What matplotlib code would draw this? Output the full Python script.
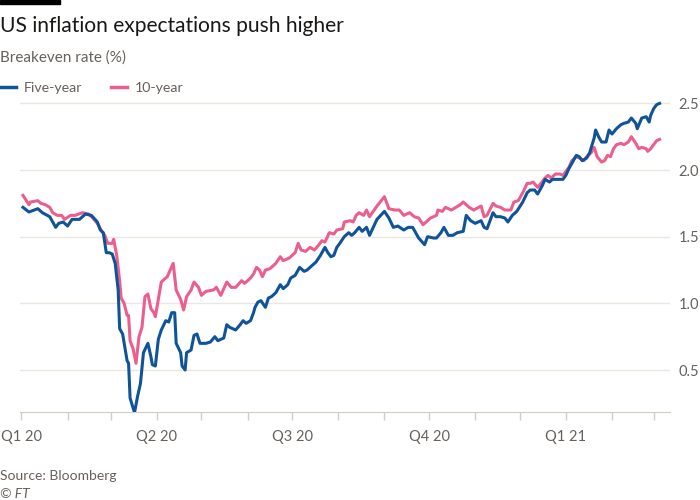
import matplotlib
matplotlib.use("Agg")
import matplotlib.pyplot as plt
import matplotlib.dates as mdates
from matplotlib.patches import Rectangle
from matplotlib.lines import Line2D
import pandas as pd

plt.rcParams['font.family'] = ['Lato', 'DejaVu Sans']

title = "US inflation expectations push higher"
subtitle = "Breakeven rate (%)"
source = "Source: Bloomberg"
series_names = ["Five-year", "10-year"]

quarter_starts = ["2020-01-01", "2020-04-01", "2020-07-01", "2020-10-01", "2021-01-01"]
quarter_labels = ["Q1 20", "Q2 20", "Q3 20", "Q4 20", "Q1 21"]
y_ticks = [0.5, 1.0, 1.5, 2.0, 2.5]

five_dates = [
    "2020-01-02", "2020-01-06", "2020-01-12", "2020-01-15", "2020-01-20", "2020-01-24", "2020-01-26", "2020-01-29",
    "2020-02-01", "2020-02-04", "2020-02-09", "2020-02-13", "2020-02-17", "2020-02-21", "2020-02-23", "2020-02-25",
    "2020-02-27", "2020-02-29",
    "2020-03-02", "2020-03-04", "2020-03-06", "2020-03-07", "2020-03-09", "2020-03-12", "2020-03-13", "2020-03-14",
    "2020-03-17", "2020-03-19", "2020-03-21", "2020-03-23", "2020-03-26", "2020-03-28", "2020-03-29", "2020-03-31",
    "2020-04-02", "2020-04-04", "2020-04-07", "2020-04-09", "2020-04-11", "2020-04-13", "2020-04-14", "2020-04-17",
    "2020-04-18", "2020-04-20", "2020-04-21", "2020-04-24", "2020-04-26", "2020-04-28", "2020-04-30",
    "2020-05-04", "2020-05-07", "2020-05-10", "2020-05-12", "2020-05-16", "2020-05-18", "2020-05-20", "2020-05-24",
    "2020-05-27", "2020-05-29", "2020-05-31",
    "2020-06-03", "2020-06-05", "2020-06-06", "2020-06-08", "2020-06-10", "2020-06-13", "2020-06-15", "2020-06-17",
    "2020-06-20", "2020-06-23", "2020-06-25", "2020-06-28", "2020-06-30",
    "2020-07-03", "2020-07-06", "2020-07-09", "2020-07-11", "2020-07-15", "2020-07-17", "2020-07-20", "2020-07-23",
    "2020-07-25", "2020-07-27", "2020-07-29", "2020-07-31",
    "2020-08-02", "2020-08-05", "2020-08-08", "2020-08-10", "2020-08-12", "2020-08-15", "2020-08-17", "2020-08-20",
    "2020-08-22", "2020-08-27",
    "2020-09-01", "2020-09-04", "2020-09-07", "2020-09-10", "2020-09-14", "2020-09-17", "2020-09-20", "2020-09-22",
    "2020-09-24", "2020-09-28", "2020-09-30",
    "2020-10-04", "2020-10-06", "2020-10-09", "2020-10-11", "2020-10-14", "2020-10-17", "2020-10-20", "2020-10-24",
    "2020-10-26", "2020-10-29",
    "2020-11-01", "2020-11-05", "2020-11-07", "2020-11-09", "2020-11-13", "2020-11-15", "2020-11-18", "2020-11-21",
    "2020-11-23", "2020-11-26", "2020-11-29",
    "2020-12-03", "2020-12-06", "2020-12-08", "2020-12-11", "2020-12-13", "2020-12-16", "2020-12-18", "2020-12-21",
    "2020-12-23", "2020-12-26", "2020-12-30",
    "2021-01-01", "2021-01-03", "2021-01-05", "2021-01-08", "2021-01-10", "2021-01-12", "2021-01-15", "2021-01-17",
    "2021-01-20", "2021-01-21", "2021-01-23", "2021-01-25", "2021-01-28", "2021-01-30",
    "2021-02-01", "2021-02-04", "2021-02-07", "2021-02-09", "2021-02-12", "2021-02-14", "2021-02-17", "2021-02-18",
    "2021-02-21", "2021-02-24", "2021-02-26", "2021-02-27",
    "2021-03-01", "2021-03-03", "2021-03-05",
]
five_year = [
    1.72, 1.685, 1.71, 1.68, 1.65, 1.57, 1.60, 1.61,
    1.58, 1.63, 1.63, 1.67, 1.66, 1.61, 1.55, 1.53, 1.38, 1.38,
    1.37, 1.30, 1.10, 0.81, 0.77, 0.57, 0.55, 0.29, 0.18, 0.30, 0.40, 0.63, 0.70, 0.60, 0.54, 0.53,
    0.73, 0.80, 0.87, 0.86, 0.93, 0.93, 0.70, 0.63, 0.53, 0.50, 0.63, 0.65, 0.76, 0.77, 0.70,
    0.70, 0.71, 0.75, 0.72, 0.74, 0.84, 0.82, 0.80, 0.84, 0.87, 0.85,
    0.87, 0.93, 0.97, 1.01, 1.02, 0.97, 1.04, 1.05, 1.08, 1.14, 1.11, 1.14, 1.19,
    1.21, 1.27, 1.24, 1.25, 1.29, 1.31, 1.36, 1.42, 1.38, 1.35, 1.36, 1.42,
    1.45, 1.50, 1.53, 1.51, 1.53, 1.57, 1.54, 1.57, 1.51, 1.63,
    1.69, 1.64, 1.57, 1.58, 1.55, 1.57, 1.57, 1.53, 1.49, 1.44, 1.50,
    1.49, 1.49, 1.53, 1.57, 1.51, 1.51, 1.53, 1.54, 1.66, 1.62,
    1.60, 1.62, 1.57, 1.56, 1.68, 1.65, 1.65, 1.64, 1.61, 1.66, 1.69,
    1.76, 1.83, 1.85, 1.85, 1.82, 1.88, 1.93, 1.91, 1.93, 1.93, 1.93,
    1.96, 2.01, 2.05, 2.11, 2.10, 2.07, 2.09, 2.13, 2.24, 2.30, 2.25, 2.21, 2.21, 2.30,
    2.27, 2.31, 2.34, 2.35, 2.36, 2.39, 2.35, 2.31, 2.39, 2.40, 2.36, 2.41,
    2.46, 2.49, 2.50,
]

ten_dates = [
    "2020-01-02", "2020-01-06", "2020-01-07", "2020-01-12", "2020-01-14", "2020-01-17", "2020-01-20", "2020-01-22",
    "2020-01-25", "2020-01-28", "2020-01-30",
    "2020-02-03", "2020-02-06", "2020-02-11", "2020-02-15", "2020-02-18", "2020-02-21", "2020-02-24", "2020-02-26",
    "2020-02-28",
    "2020-03-02", "2020-03-03", "2020-03-05", "2020-03-07", "2020-03-08", "2020-03-10", "2020-03-12", "2020-03-13",
    "2020-03-14", "2020-03-16", "2020-03-18", "2020-03-20", "2020-03-22", "2020-03-24", "2020-03-26", "2020-03-28",
    "2020-03-30", "2020-03-31",
    "2020-04-02", "2020-04-04", "2020-04-08", "2020-04-10", "2020-04-12", "2020-04-14", "2020-04-17", "2020-04-19",
    "2020-04-21", "2020-04-24", "2020-04-26", "2020-04-29",
    "2020-05-01", "2020-05-04", "2020-05-09", "2020-05-11", "2020-05-14", "2020-05-18", "2020-05-21", "2020-05-24",
    "2020-05-28", "2020-05-30",
    "2020-06-03", "2020-06-05", "2020-06-07", "2020-06-09", "2020-06-11", "2020-06-13", "2020-06-16", "2020-06-20",
    "2020-06-23", "2020-06-25", "2020-06-29",
    "2020-07-03", "2020-07-05", "2020-07-07", "2020-07-10", "2020-07-13", "2020-07-16", "2020-07-19", "2020-07-21",
    "2020-07-23", "2020-07-26", "2020-07-29", "2020-07-31",
    "2020-08-04", "2020-08-05", "2020-08-09", "2020-08-11", "2020-08-13", "2020-08-15", "2020-08-18", "2020-08-20",
    "2020-08-22", "2020-08-27",
    "2020-09-01", "2020-09-04", "2020-09-08", "2020-09-11", "2020-09-14", "2020-09-18", "2020-09-21", "2020-09-24",
    "2020-09-27", "2020-09-29",
    "2020-10-02", "2020-10-06", "2020-10-07", "2020-10-10", "2020-10-12", "2020-10-16", "2020-10-19", "2020-10-22",
    "2020-10-24", "2020-10-28", "2020-10-31",
    "2020-11-05", "2020-11-07", "2020-11-09", "2020-11-13", "2020-11-15", "2020-11-18", "2020-11-21", "2020-11-25",
    "2020-11-27", "2020-11-30",
    "2020-12-03", "2020-12-06", "2020-12-08", "2020-12-10", "2020-12-13", "2020-12-16", "2020-12-18", "2020-12-20",
    "2020-12-22", "2020-12-25", "2020-12-28", "2020-12-30",
    "2021-01-01", "2021-01-03", "2021-01-05", "2021-01-08", "2021-01-10", "2021-01-13", "2021-01-15", "2021-01-18",
    "2021-01-20", "2021-01-22", "2021-01-25", "2021-01-27", "2021-01-29", "2021-01-31",
    "2021-02-02", "2021-02-04", "2021-02-07", "2021-02-09", "2021-02-12", "2021-02-14", "2021-02-17", "2021-02-19",
    "2021-02-21", "2021-02-24", "2021-02-25", "2021-02-27",
    "2021-03-01", "2021-03-03", "2021-03-05",
]
ten_year = [
    1.81, 1.74, 1.76, 1.77, 1.75, 1.74, 1.72, 1.68, 1.66, 1.66, 1.63,
    1.66, 1.66, 1.68, 1.67, 1.64, 1.60, 1.54, 1.51, 1.45,
    1.45, 1.48, 1.36, 1.17, 1.04, 1.00, 0.91, 0.91, 0.72, 0.66, 0.55, 0.75, 0.82, 1.05, 1.07, 0.96, 0.93, 0.90,
    1.03, 1.16, 1.20, 1.25, 1.30, 1.10, 1.03, 0.95, 1.05, 1.10, 1.16, 1.12,
    1.06, 1.09, 1.10, 1.12, 1.06, 1.16, 1.12, 1.12, 1.17, 1.15,
    1.19, 1.22, 1.27, 1.25, 1.20, 1.25, 1.26, 1.30, 1.35, 1.32, 1.34,
    1.38, 1.45, 1.40, 1.39, 1.42, 1.40, 1.44, 1.47, 1.46, 1.53, 1.52, 1.55,
    1.56, 1.61, 1.62, 1.61, 1.66, 1.68, 1.66, 1.70, 1.65, 1.73,
    1.80, 1.71, 1.70, 1.70, 1.66, 1.68, 1.65, 1.64, 1.59, 1.61,
    1.64, 1.66, 1.70, 1.69, 1.72, 1.70, 1.72, 1.74, 1.76, 1.72, 1.70,
    1.73, 1.65, 1.66, 1.75, 1.73, 1.72, 1.70, 1.70, 1.76, 1.77,
    1.83, 1.90, 1.90, 1.91, 1.87, 1.91, 1.94, 1.96, 1.94, 1.97, 1.97, 1.96,
    1.99, 2.02, 2.07, 2.10, 2.09, 2.07, 2.10, 2.13, 2.17, 2.10, 2.06, 2.07, 2.11, 2.10,
    2.16, 2.19, 2.20, 2.19, 2.21, 2.25, 2.20, 2.16, 2.17, 2.16, 2.14, 2.16,
    2.19, 2.22, 2.23,
]

blue = "#0f5499"
pink = "#eb5e8d"
grey_text = "#66605c"
grid_col = "#ece6e0"
axis_col = "#d4cdc6"

fig = plt.figure(figsize=(7, 5), dpi=100)
ax = fig.add_axes([20 / 700, 1 - 412 / 500, 650 / 700, 311.3 / 500])

ax.plot(pd.to_datetime(ten_dates), ten_year, color=pink, lw=2.2, solid_joinstyle="round", zorder=3)
ax.plot(pd.to_datetime(five_dates), five_year, color=blue, lw=2.2, solid_joinstyle="round", zorder=4)

ax.set_xlim(pd.Timestamp("2019-12-31"), pd.Timestamp("2021-03-12"))
ax.set_ylim(0.185, 2.52)

ax.yaxis.tick_right()
ax.set_yticks(y_ticks)
ax.set_yticklabels([f"{v:.1f}" for v in y_ticks])
ax.tick_params(axis="y", length=0, pad=6, labelsize=10.5, labelcolor=grey_text)
ax.grid(axis="y", color=grid_col, lw=1)

ax.set_xticks(pd.to_datetime(quarter_starts))
ax.set_xticklabels(quarter_labels)
ax.xaxis.set_minor_locator(mdates.MonthLocator())
ax.tick_params(axis="x", which="both", length=6, width=1, color=axis_col,
               labelsize=10.5, labelcolor=grey_text, pad=7)

for side in ["top", "left", "right"]:
    ax.spines[side].set_visible(False)
ax.spines["bottom"].set_color(axis_col)
ax.set_axisbelow(True)

# header
fig.patches.append(Rectangle((0, 1 - 4 / 500), 60 / 700, 4 / 500, transform=fig.transFigure,
                             color="black", zorder=5))
fig.text(0, 1 - 31.5 / 500, title, fontsize=15.1, color="#1a1817", va="baseline", ha="left")
fig.text(0, 1 - 62 / 500, subtitle, fontsize=11, color=grey_text, va="baseline", ha="left")

handles = [Line2D([], [], color=blue, lw=2.5), Line2D([], [], color=pink, lw=2.5)]
fig.legend(handles, series_names, loc="center left", bbox_to_anchor=(0, 1 - 88 / 500),
           ncol=2, frameon=False, fontsize=10.2, labelcolor=grey_text, borderpad=0,
           borderaxespad=0, handlelength=1.15, handletextpad=0.55, columnspacing=2.0)

fig.text(0, 1 - 480 / 500, source, fontsize=10, color=grey_text, va="baseline", ha="left")
fig.text(0, 1 - 498 / 500, "© FT", fontsize=10, color=grey_text, va="baseline", ha="left",
         style="italic")

fig.savefig("out.png", dpi=100)
